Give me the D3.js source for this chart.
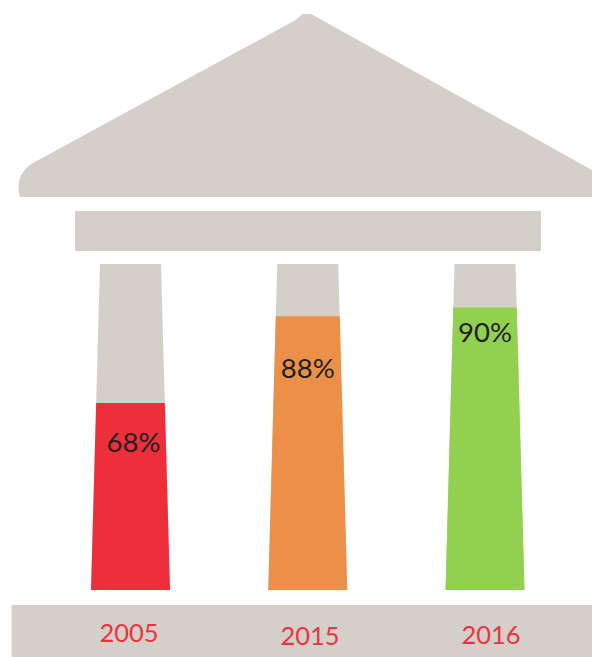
<!DOCTYPE html>
<html>
<head>
<meta charset="utf-8">
<script src="https://cdn.jsdelivr.net/npm/d3@7/dist/d3.min.js"></script>
<style>
  html, body { margin: 0; padding: 0; background: #fff; }
  svg { display: block; }
  text { font-family: Lato, "Open Sans", sans-serif; }
</style>
</head>
<body>
<svg id="chart" width="592" height="657"></svg>
<script>
// Chart data
const years = ["2005", "2015", "2016"];
const shares = [68, 88, 90];
const fills = ["#ed2f3c", "#ec9049", "#92d14f"];

// Layout
const width = 592, height = 657;
const stone = "#d4cfc9";
const columnBase = 590, columnTop = 264;
const valueBaselines = [452, 378, 342];
const valueShifts = [3, 0, 0];
const yearCentres = [129, 310, 491];
const yearBaselines = [642, 645, 644];

const svg = d3.select("#chart").attr("viewBox", [0, 0, width, height]);

const x = d3.scalePoint().domain(years).range([130.5, 485]);
// The shaft scale starts above zero, so the fill heights stay within the column.
const y = d3.scaleLinear().domain([25, 100]).range([columnBase, columnTop]);
// Columns taper toward the top, so half-width depends on the level.
const halfWidth = d3.scaleLinear().domain([25, 100]).range([39.5, 30.5]);

const shaft = (year, level) => {
  const c = x(year);
  return d3.line()([
    [c - halfWidth(25), y(25)],
    [c - halfWidth(level), y(level)],
    [c + halfWidth(level), y(level)],
    [c + halfWidth(25), y(25)]
  ]) + "Z";
};

// Pediment
svg.append("path")
  .attr("fill", stone)
  .attr("d", "M20,197 C17,186 18,172 33,163 L292,22 C298,19 301,14.5 303,14 L311,14 L592,170 L592,197 Z");

// Entablature
svg.append("rect")
  .attr("x", 75).attr("y", 211)
  .attr("width", 466).attr("height", 40)
  .attr("fill", stone);

// Plinth
svg.append("rect")
  .attr("x", 11.5).attr("y", 605)
  .attr("width", width - 11.5).attr("height", height - 605)
  .attr("fill", stone);

// Column shafts, then the filled share of each
svg.append("g").selectAll("path").data(years).join("path")
  .attr("fill", stone)
  .attr("d", d => shaft(d, 100));

svg.append("g").selectAll("path").data(years).join("path")
  .attr("fill", (d, i) => fills[i])
  .attr("d", (d, i) => shaft(d, shares[i]));

// Value labels
svg.append("g").selectAll("text").data(years).join("text")
  .attr("x", (d, i) => x(d) + valueShifts[i])
  .attr("y", (d, i) => valueBaselines[i])
  .attr("text-anchor", "middle")
  .attr("font-size", 27.5)
  .attr("fill", "#231f20")
  .text((d, i) => shares[i] + "%");

// Year labels on the plinth
svg.append("g").selectAll("text").data(years).join("text")
  .attr("x", (d, i) => yearCentres[i])
  .attr("y", (d, i) => yearBaselines[i])
  .attr("text-anchor", "middle")
  .attr("font-size", 25.5)
  .attr("fill", "#ee3340")
  .text(d => d);
</script>
</body>
</html>
